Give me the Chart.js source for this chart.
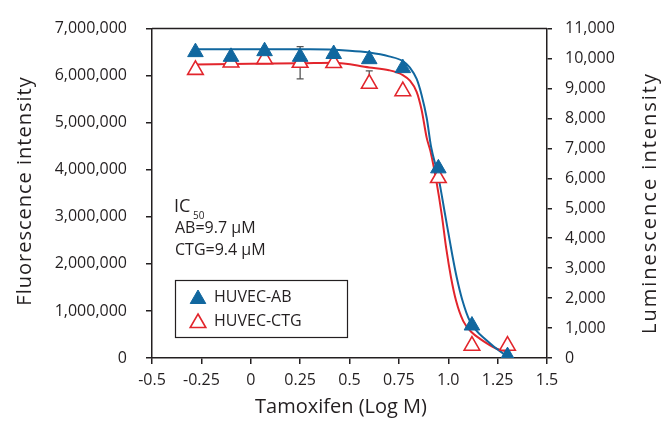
<!DOCTYPE html>
<html>
<head>
<meta charset="utf-8">
<script src="https://cdn.jsdelivr.net/npm/chart.js@4.4.1/dist/chart.umd.min.js"></script>
<style>
  body { margin: 0; background: #fff; }
  canvas { display: block; }
</style>
</head>
<body>
<canvas id="ivChart" width="665" height="423"></canvas>
<script>
// log concentrations (x) for the measured points
const logConc = [-0.28, -0.10, 0.07, 0.25, 0.42, 0.60, 0.77, 0.95, 1.12, 1.30];
// HUVEC-AB, fluorescence (left axis)
const abValues = [6500000, 6400000, 6520000, 6400000, 6460000, 6350000, 6160000, 4030000, 690000, 40000];
// HUVEC-CTG, luminescence (right axis)
const ctgValues = [9620, 9870, 9980, 9860, 9850, 9160, 8910, 6010, 410, 410];
const ctgErrUp = [0, 0, 0, 540, 0, 430, 0, 0, 0, 0];
const ctgErrDown = [0, 0, 0, 540, 0, 0, 0, 0, 0, 0];

// fitted curves
const abCurveX = [-0.28, 0.0, 0.3, 0.5, 0.6, 0.7, 0.77, 0.806, 0.84, 0.865, 0.891, 0.913, 0.95, 0.984, 1.02, 1.043, 1.07, 1.11, 1.195, 1.277, 1.3];
const abCurveY = [6560000, 6560000, 6560000, 6530000, 6490000, 6410000, 6310000, 6170000, 5930000, 5590000, 5100000, 4490000, 3850000, 3050000, 2200000, 1710000, 1250000, 780000, 370000, 100000, 50000];
const ctgCurveX = [-0.28, 0.0, 0.25, 0.42, 0.6, 0.7, 0.77, 0.806, 0.84, 0.865, 0.891, 0.91, 0.94, 0.967, 0.99, 1.014, 1.04, 1.076, 1.12, 1.161, 1.245, 1.3];
const ctgCurveY = [9800, 9830, 9840, 9860, 9700, 9610, 9450, 9260, 8890, 8290, 7350, 6900, 5900, 4790, 3650, 2690, 1900, 1230, 850, 640, 310, 220];

// ticks
const xTicks = [-0.5, -0.25, 0, 0.25, 0.5, 0.75, 1.0, 1.25, 1.5];
const xTickLabels = ['-0.5', '-0.25', '0', '0.25', '0.5', '0.75', '1.0', '1.25', '1.5'];
const leftTicks = [0, 1000000, 2000000, 3000000, 4000000, 5000000, 6000000, 7000000];
const rightTicks = [0, 1000, 2000, 3000, 4000, 5000, 6000, 7000, 8000, 9000, 10000, 11000];

const BLUE = '#11679f';
const RED = '#e2252c';
const INK = '#231f20';
const FONT = "'Open Sans', sans-serif";

Chart.defaults.font.family = FONT;
Chart.defaults.color = INK;

const toPts = (xs, ys) => xs.map((x, i) => ({ x: x, y: ys[i] }));

// frame, error bars, titles, annotation and legend box
const decorPlugin = {
    id: 'decor',
    beforeDatasetsDraw(chart) {
        const ctx = chart.ctx;
        const xs = chart.scales.x, yr = chart.scales.y2;
        ctx.save();
        ctx.strokeStyle = '#555';
        ctx.lineWidth = 1.3;
        logConc.forEach((lx, i) => {
            if (!ctgErrUp[i] && !ctgErrDown[i]) return;
            const px = xs.getPixelForValue(lx);
            const top = yr.getPixelForValue(ctgValues[i] + ctgErrUp[i]);
            const bot = yr.getPixelForValue(ctgValues[i] - ctgErrDown[i]);
            ctx.beginPath();
            ctx.moveTo(px, top); ctx.lineTo(px, bot);
            if (ctgErrUp[i]) { ctx.moveTo(px - 3.5, top); ctx.lineTo(px + 3.5, top); }
            if (ctgErrDown[i]) { ctx.moveTo(px - 3.5, bot); ctx.lineTo(px + 3.5, bot); }
            ctx.stroke();
        });
        ctx.restore();
    },
    afterDraw(chart) {
        const ctx = chart.ctx;
        const a = chart.chartArea;
        ctx.save();
        // top border of the frame
        ctx.strokeStyle = INK;
        ctx.lineWidth = 1.5;
        ctx.beginPath();
        ctx.moveTo(a.left, a.top); ctx.lineTo(a.right, a.top);
        ctx.stroke();

        // axis titles
        ctx.fillStyle = INK;
        ctx.textAlign = 'center';
        ctx.textBaseline = 'middle';
        ctx.font = '20px ' + FONT;
        ctx.fillText('Tamoxifen (Log M)', 341, 407);
        ctx.save();
        ctx.letterSpacing = '1px';
        ctx.translate(25, 191);
        ctx.rotate(-Math.PI / 2);
        ctx.fillText('Fluorescence intensity', 0, 0);
        ctx.restore();
        ctx.save();
        ctx.letterSpacing = '2px';
        ctx.translate(650, 203);
        ctx.rotate(-Math.PI / 2);
        ctx.fillText('Luminescence intensity', 0, 0);
        ctx.restore();

        // IC50 note
        ctx.textAlign = 'left';
        ctx.textBaseline = 'alphabetic';
        ctx.font = '18px ' + FONT;
        ctx.fillText('IC', 174, 212);
        ctx.font = '10px ' + FONT;
        ctx.fillText('50', 193, 219);
        ctx.font = '16px ' + FONT;
        ctx.fillText('AB=9.7 \u00b5M', 175, 233);
        ctx.fillText('CTG=9.4 \u00b5M', 175, 255);

        // legend box
        ctx.lineWidth = 1.2;
        ctx.strokeRect(175.5, 280.5, 172, 57);
        const items = [
            { label: 'HUVEC-AB', ds: chart.data.datasets[0], y: 297 },
            { label: 'HUVEC-CTG', ds: chart.data.datasets[1], y: 321 }
        ];
        items.forEach(it => {
            ctx.fillStyle = it.ds.backgroundColor;
            ctx.strokeStyle = it.ds.borderColor;
            ctx.lineWidth = it.ds.borderWidth;
            Chart.helpers.drawPoint(ctx, { pointStyle: 'triangle', radius: 9, borderWidth: it.ds.borderWidth }, 198, it.y + 2);
            ctx.fillStyle = INK;
            ctx.font = '16px ' + FONT;
            ctx.textBaseline = 'middle';
            ctx.fillText(it.label, 214, it.y);
        });
        ctx.restore();
    }
};

const ctx = document.getElementById('ivChart').getContext('2d');
new Chart(ctx, {
    type: 'scatter',
    data: {
        datasets: [
            {
                label: 'HUVEC-AB',
                data: toPts(logConc, abValues),
                yAxisID: 'y',
                pointStyle: 'triangle',
                pointRadius: 9,
                backgroundColor: BLUE,
                borderColor: BLUE,
                borderWidth: 1
            },
            {
                label: 'HUVEC-CTG',
                data: toPts(logConc, ctgValues),
                yAxisID: 'y2',
                pointStyle: 'triangle',
                pointRadius: 9,
                backgroundColor: '#ffffff',
                borderColor: RED,
                borderWidth: 1.6
            },
            {
                label: 'AB fit',
                data: toPts(abCurveX, abCurveY),
                yAxisID: 'y',
                showLine: true,
                pointRadius: 0,
                borderColor: BLUE,
                borderWidth: 2,
                cubicInterpolationMode: 'monotone'
            },
            {
                label: 'CTG fit',
                data: toPts(ctgCurveX, ctgCurveY),
                yAxisID: 'y2',
                showLine: true,
                pointRadius: 0,
                borderColor: RED,
                borderWidth: 2,
                cubicInterpolationMode: 'monotone'
            }
        ]
    },
    options: {
        responsive: false,
        animation: false,
        devicePixelRatio: 1,
        layout: { padding: { top: 18, left: 0, right: 0, bottom: 0 } },
        plugins: {
            legend: { display: false },
            tooltip: { enabled: false }
        },
        scales: {
            x: {
                type: 'linear',
                min: -0.5,
                max: 1.5,
                afterBuildTicks: (scale) => { scale.ticks = xTicks.map(v => ({ value: v })); },
                afterFit: (scale) => { scale.height = 65; },
                grid: { drawOnChartArea: false, drawTicks: true, tickLength: 6, color: INK, lineWidth: 1.5 },
                border: { display: true, color: INK, width: 1.5 },
                ticks: {
                    padding: 7,
                    font: { size: 16 },
                    color: INK,
                    maxRotation: 0,
                    callback: (v) => xTickLabels[xTicks.indexOf(v)]
                }
            },
            y: {
                type: 'linear',
                position: 'left',
                min: 0,
                max: 7000000,
                afterBuildTicks: (scale) => { scale.ticks = leftTicks.map(v => ({ value: v })); },
                afterFit: (scale) => { scale.width = 152; },
                grid: { drawOnChartArea: false, drawTicks: true, tickLength: 6, color: INK, lineWidth: 1.5 },
                border: { display: true, color: INK, width: 1.5 },
                ticks: {
                    padding: 19,
                    font: { size: 16 },
                    color: INK,
                    callback: (v) => v.toLocaleString('en-US')
                }
            },
            y2: {
                type: 'linear',
                position: 'right',
                min: 0,
                max: 11000,
                afterBuildTicks: (scale) => { scale.ticks = rightTicks.map(v => ({ value: v })); },
                afterFit: (scale) => { scale.width = 118; },
                grid: { drawOnChartArea: false, drawTicks: true, tickLength: 5, color: INK, lineWidth: 1.5 },
                border: { display: true, color: INK, width: 1.5 },
                ticks: {
                    padding: 13,
                    font: { size: 16 },
                    color: INK,
                    callback: (v) => v.toLocaleString('en-US')
                }
            }
        }
    },
    plugins: [decorPlugin]
});
</script>
</body>
</html>
